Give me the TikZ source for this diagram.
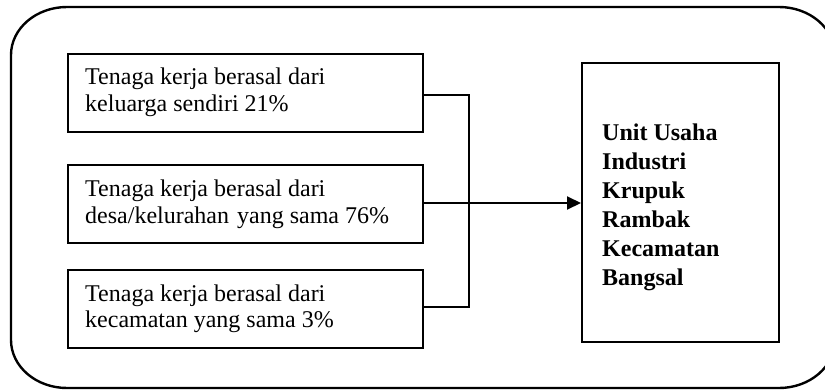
\documentclass[tikz,border=0pt]{standalone}
\usepackage{fontspec}
\setmainfont{Liberation Serif}
\usetikzlibrary{arrows.meta}

% stacked lines with a fixed baseline distance; baseline = first line
\newcommand\linestack[2]{\vtop{\baselineskip=#1\relax #2}}

\tikzset{
  frame/.style={line width=2.4pt, line join=round},
  srcbox/.style={draw, line width=2pt, rectangle, inner sep=0pt,
                 minimum width=355pt, minimum height=78pt, anchor=north west},
  unitbox/.style={draw, line width=2pt, rectangle, inner sep=0pt,
                 minimum width=197pt, minimum height=279pt, anchor=north west},
  srctext/.style={anchor=base west, inner sep=0pt,
                  font=\fontsize{24}{26.7}\selectfont},
  unittext/.style={anchor=base west, inner sep=0pt,
                  font=\fontsize{24}{28.9}\selectfont\bfseries},
  link/.style={line width=2pt},
  flow/.style={line width=2pt, -{Triangle[length=14pt,width=13pt]}}
}

\begin{document}
\begin{tikzpicture}[x=1pt, y=-1pt]
  \useasboundingbox (0,0) rectangle (825,391);
  \clip (0,0) rectangle (825,391);

  % outer frame with rounded corners, running past the right margin
  \draw[frame] (11,340) -- (11,55)
    arc[start angle=180, end angle=90, x radius=56pt, y radius=48pt]
    -- (779,7)
    arc[start angle=90, end angle=0, x radius=56pt, y radius=48pt]
    -- (835,340)
    arc[start angle=0, end angle=-90, x radius=56pt, y radius=48pt]
    -- (67,388)
    arc[start angle=270, end angle=180, x radius=56pt, y radius=48pt]
    -- cycle;

  % source boxes
  \node[srcbox] (b1) at (67,53) {};
  \node[srcbox] (b2) at (67,164) {};
  \node[srcbox] (b3) at (67,269) {};

  \node[srctext] (t1) at (85,84.5) {\linestack{26.7pt}{%
      \hbox{Tenaga kerja berasal dari}\hbox{keluarga sendiri 21\%}}};
  \node[srctext] (t2) at (85,196.7) {\linestack{26.7pt}{%
      \hbox{Tenaga kerja berasal dari}\hbox{desa/kelurahan\hspace{2pt} yang sama 76\%}}};
  \node[srctext] (t3) at (85,301) {\linestack{26.7pt}{%
      \hbox{Tenaga kerja berasal dari}\hbox{kecamatan yang sama 3\%}}};

  % target box
  \node[unitbox] (u) at (581,62) {};
  \node[unittext] (ut) at (602,140.7) {\linestack{28.9pt}{%
      \hbox{Unit Usaha}\hbox{Industri}\hbox{Krupuk}\hbox{Rambak}%
      \hbox{Kecamatan}\hbox{Bangsal}}};

  % collector line
  \coordinate (c1) at (469,95);
  \coordinate (c2) at (469,203);
  \coordinate (c3) at (469,307);
  \draw[link] (b1.east |- c1) -- (c1) -- (c3) -- (b3.east |- c3);
  \draw[link] (b2.east |- c2) -- (c2);
  \draw[flow] (c2) -- (u.west |- c2);
\end{tikzpicture}
\end{document}
